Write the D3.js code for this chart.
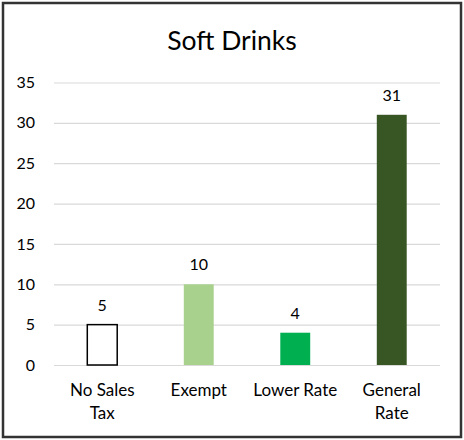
<!DOCTYPE html>
<html>
  <head>
    <meta charset="utf-8">
    <title>Soft Drinks</title>
    <script src="https://d3js.org/d3.v7.min.js"></script>
    <style>
      body { margin: 0; background: #fff; }
      svg text { font-family: Lato, "Open Sans", sans-serif; fill: #000; }
    </style>
  </head>
  <body>
    <div id="chart"></div>
    <script>

      // Data
      var categories = [["No Sales", "Tax"], ["Exempt"], ["Lower Rate"], ["General", "Rate"]];
      var values = [5, 10, 4, 31];
      var fills = ["#ffffff", "#a9d18e", "#00b050", "#375623"];
      var yTicks = [0, 5, 10, 15, 20, 25, 30, 35];

      var width = 464, height = 440;
      var margin = {top: 82.5, right: 24, bottom: 75, left: 54};

      var svg = d3.select("#chart").append("svg")
        .attr("width", width)
        .attr("height", height);

      // Outer frame
      svg.append("rect")
        .attr("x", 3).attr("y", 3)
        .attr("width", width - 6).attr("height", height - 6)
        .attr("fill", "#fff")
        .attr("stroke", "#333")
        .attr("stroke-width", 2.5);

      svg.append("text")
        .attr("x", width / 2)
        .attr("y", 50)
        .attr("text-anchor", "middle")
        .style("font-size", "26.5px")
        .text("Soft Drinks");

      var x = d3.scaleBand()
        .domain(d3.range(values.length))
        .range([margin.left, width - margin.right])
        .paddingInner(0.69)
        .paddingOuter(0.345);

      var y = d3.scaleLinear()
        .domain([0, 35])
        .range([height - margin.bottom, margin.top]);

      // Gridlines + y labels
      var yAxis = svg.append("g")
        .attr("transform", "translate(" + margin.left + ",0)")
        .call(d3.axisLeft(y).tickValues(yTicks)
          .tickSize(-(width - margin.left - margin.right))
          .tickPadding(19));
      yAxis.select(".domain").remove();
      yAxis.selectAll(".tick line").attr("stroke", "#d9d9d9").attr("stroke-width", 1.2);
      yAxis.selectAll(".tick text").style("font-size", "16px").attr("fill", "#000");

      // Bars
      svg.selectAll(".bar")
        .data(values)
        .enter().append("rect")
          .attr("class", "bar")
          .attr("x", function (d, i) { return x(i); })
          .attr("y", function (d) { return y(d); })
          .attr("width", x.bandwidth())
          .attr("height", function (d) { return y(0) - y(d); })
          .attr("fill", function (d, i) { return fills[i]; })
          .attr("stroke", function (d, i) { return i === 0 ? "#000" : "none"; })
          .attr("stroke-width", 1.5);

      // Value labels
      svg.selectAll(".val")
        .data(values)
        .enter().append("text")
          .attr("class", "val")
          .attr("x", function (d, i) { return x(i) + x.bandwidth() / 2; })
          .attr("y", function (d) { return y(d) - 14; })
          .attr("text-anchor", "middle")
          .style("font-size", "16px")
          .text(function (d) { return d; });

      // Category labels
      var cat = svg.selectAll(".cat")
        .data(categories)
        .enter().append("text")
          .attr("class", "cat")
          .attr("text-anchor", "middle")
          .style("font-size", "17px");
      cat.selectAll("tspan")
        .data(function (d, i) { return d.map(function (s) { return {s: s, i: i}; }); })
        .enter().append("tspan")
          .attr("x", function (d) { return x(d.i) + x.bandwidth() / 2; })
          .attr("y", function (d, j) { return 396 + j * 23; })
          .text(function (d) { return d.s; });

    </script>
  </body>
</html>
